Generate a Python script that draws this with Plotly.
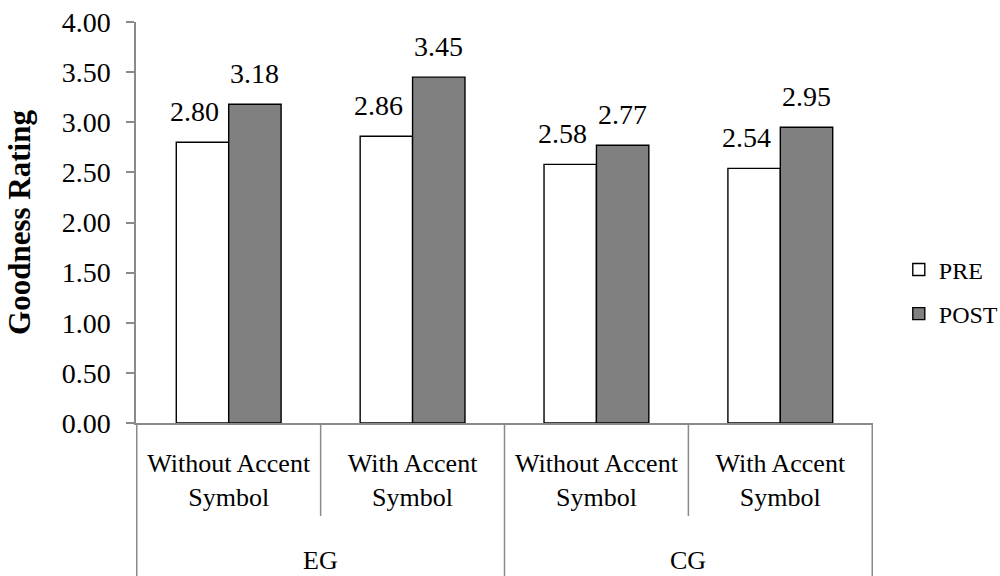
import plotly.graph_objects as go

# Goodness ratings by group and accent-symbol condition
groups = ["EG", "EG", "CG", "CG"]
conditions = ["Without Accent<br>Symbol", "With Accent<br>Symbol",
              "Without Accent<br>Symbol", "With Accent<br>Symbol"]
categories = ["EG | Without", "EG | With", "CG | Without", "CG | With"]
pre_scores = [2.80, 2.86, 2.58, 2.54]
post_scores = [3.18, 3.45, 2.77, 2.95]
y_ticks = [0, 0.5, 1.0, 1.5, 2.0, 2.5, 3.0, 3.5, 4.0]

FONT = "Liberation Serif, Times New Roman, serif"
AXIS_GRAY = "#8a8a8a"

fig = go.Figure()
fig.add_trace(go.Bar(
    name="PRE", x=categories, y=pre_scores,
    marker=dict(color="white", line=dict(color="black", width=1.4)),
    legendgroup="pre",
))
fig.add_trace(go.Bar(
    name="POST", x=categories, y=post_scores,
    marker=dict(color="#808080", line=dict(color="black", width=1.4)),
    legendgroup="post",
))

# value labels above each bar
half_bar = 26.3
for cat, v in zip(categories, pre_scores):
    fig.add_annotation(x=cat, y=v, text=f"{v:.2f}", showarrow=False,
                       xref="x", yref="y", xanchor="center", yanchor="bottom",
                       xshift=-half_bar - 8, yshift=13,
                       font=dict(family=FONT, size=28, color="black"))
for cat, v in zip(categories, post_scores):
    fig.add_annotation(x=cat, y=v, text=f"{v:.2f}", showarrow=False,
                       xref="x", yref="y", xanchor="center", yanchor="bottom",
                       xshift=half_bar, yshift=13,
                       font=dict(family=FONT, size=28, color="black"))

# boundary lines under the category axis
line_style = dict(color=AXIS_GRAY, width=1.5)
for b in [0.5, 2.5]:
    fig.add_shape(type="line", xref="x", yref="paper", x0=b, x1=b,
                  y0=0, y1=-0.232, line=line_style)
for b in [-0.5, 1.5, 3.5]:
    fig.add_shape(type="line", xref="x", yref="paper", x0=b, x1=b,
                  y0=0, y1=-0.4, line=line_style)

# outer group labels
group_names = ["EG", "CG"]
group_centers = [0.5, 2.5]
for name, c in zip(group_names, group_centers):
    fig.add_annotation(x=c, y=-0.342, xref="x", yref="paper", text=name,
                       showarrow=False, yanchor="middle",
                       font=dict(family=FONT, size=26, color="black"))

fig.update_layout(
    width=1000, height=576,
    margin=dict(l=136, r=127, t=22, b=153, autoexpand=False),
    paper_bgcolor="white", plot_bgcolor="white",
    barmode="group", bargap=0.43, bargroupgap=0,
    font=dict(family=FONT, size=26, color="black"),
    legend=dict(x=1.035, y=0.327, xanchor="left", yanchor="middle",
                font=dict(family=FONT, size=24, color="black"),
                tracegroupgap=10, traceorder="grouped", itemwidth=30),
    showlegend=True,
)
fig.update_xaxes(
    type="category", tickmode="array", tickvals=categories, ticktext=conditions,
    showline=True, linecolor=AXIS_GRAY, linewidth=1.5,
    ticks="", showgrid=False, ticklabelstandoff=16,
    tickfont=dict(family=FONT, size=26, color="black"),
)
fig.update_yaxes(
    range=[0, 4], tickmode="array", tickvals=y_ticks,
    ticktext=[f"{t:.2f}" for t in y_ticks],
    showline=True, linecolor=AXIS_GRAY, linewidth=1.5,
    ticks="outside", ticklen=8, tickcolor=AXIS_GRAY, tickwidth=1.5,
    showgrid=False, zeroline=False, ticklabelstandoff=10,
    tickfont=dict(family=FONT, size=28, color="black"),
    title=dict(text="<b>Goodness Rating</b>", standoff=22,
               font=dict(family=FONT, size=31, color="black")),
)

fig.write_html("out.html")
